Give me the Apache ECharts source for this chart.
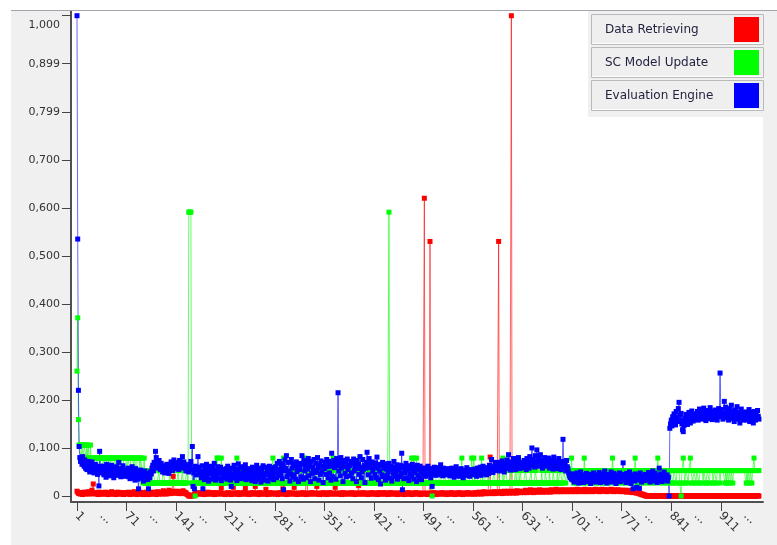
<!DOCTYPE html>
<html>
<head>
<meta charset="utf-8">
<script src="https://cdn.jsdelivr.net/npm/echarts@6/dist/echarts.min.js"></script>
<style>
  html, body { margin: 0; padding: 0; background: #ffffff; }
  #chart { width: 777px; height: 545px; }
</style>
</head>
<body>
<div id="chart"></div>
<script>
// Measured timings per run (thousandths of the normalised scale)
const VALUE_SCALE = 1000;

const seriesNames = ['Data Retrieving', 'SC Model Update', 'Evaluation Engine'];
const seriesColors = ['#ff0000', '#00ff00', '#0000ff'];

const dataRetrieving = [
  10,8,6,5,6,4,7,5,3,6,8,5,4,7,6,5,9,6,4,5,7,12,8,25,6,5,4,7,5,6,3,8,5,6,4,
  5,7,4,6,5,8,4,6,5,3,7,5,6,4,9,5,6,4,7,5,3,6,5,8,4,6,5,7,4,5,6,3,7,5,6,
  4,6,5,8,5,3,6,4,7,5,6,9,4,5,7,3,6,5,4,8,5,6,4,7,3,5,6,4,8,5,6,3,5,7,4,
  6,5,8,4,6,5,7,3,6,9,5,4,7,5,6,8,4,11,5,6,7,4,9,6,5,12,7,5,8,6,10,41,7,9,6,
  8,6,10,7,5,9,6,8,5,7,11,6,8,5,7,4,3,2,0,0,1,0,0,2,0,1,3,5,6,4,7,5,6,4,5,
  5,6,4,7,5,3,6,5,4,6,8,5,4,6,5,7,4,5,6,3,5,7,4,6,5,4,6,5,7,17,5,4,6,5,3,
  5,4,6,5,7,4,5,6,3,5,6,18,4,5,6,5,4,7,5,3,6,5,4,6,5,7,4,5,16,6,4,5,6,3,5,
  4,6,5,7,4,5,6,20,5,4,6,5,3,7,5,6,4,5,6,5,4,6,14,5,3,6,5,4,7,5,6,4,5,6,5,
  5,4,6,5,3,6,5,7,4,5,6,15,5,4,6,5,3,6,5,4,7,5,6,4,5,6,5,18,4,6,5,3,5,6,4,
  5,6,4,5,7,5,4,6,5,3,77,5,6,4,5,6,4,7,5,6,5,4,6,5,20,4,6,5,3,5,6,4,5,7,5,
  4,6,5,3,6,5,4,7,5,6,4,5,6,5,4,18,5,6,4,5,6,5,4,6,3,5,7,5,4,6,5,4,6,5,5,
  6,4,5,7,5,4,6,5,3,6,5,4,6,22,5,4,6,5,4,7,5,6,4,5,6,5,3,6,5,4,6,5,7,4,5,
  5,6,4,5,6,3,5,7,4,6,5,4,6,5,7,4,5,6,5,3,6,5,4,7,5,6,4,5,6,5,4,6,5,3,6,
  5,4,6,5,7,4,5,6,3,5,6,4,5,7,5,4,6,5,3,6,5,4,6,5,7,4,5,6,5,4,6,3,5,6,5,
  5,620,4,6,5,3,6,5,4,530,5,6,4,5,7,4,5,6,3,5,6,4,5,6,5,4,7,5,6,4,5,6,5,3,6,
  5,6,4,5,7,5,4,6,5,3,6,5,4,6,5,7,4,5,6,5,3,6,4,5,6,5,4,7,5,6,4,5,6,5,4,
  6,5,4,7,5,6,4,5,8,6,5,7,4,6,5,9,6,5,7,5,6,8,5,7,81,6,8,5,7,6,9,5,7,6,8,
  7,530,8,6,9,7,5,8,6,10,7,9,6,8,7,10,6,9,7,1000,8,6,10,7,9,8,6,11,7,9,8,10,7,9,8,
  9,7,10,8,12,9,7,11,8,10,9,13,8,10,9,7,11,9,12,8,10,9,11,8,13,10,9,11,8,10,12,9,11,8,10,
  10,12,9,11,8,13,10,9,12,10,11,9,14,10,12,9,11,10,13,9,11,12,10,9,13,11,10,12,9,11,10,13,11,9,12,
  11,10,13,9,12,11,10,14,11,9,12,10,13,11,10,12,9,11,14,10,12,11,9,13,10,12,11,10,13,9,11,12,10,14,11,
  12,10,11,13,9,12,11,14,10,12,11,13,10,12,9,11,13,10,12,11,14,10,12,11,9,13,11,10,12,11,13,10,12,9,11,
  10,12,11,9,12,10,11,8,10,12,9,11,8,10,9,7,10,8,9,7,8,6,8,7,5,6,4,5,3,4,2,3,1,2,0,
  0,0,1,0,0,0,0,1,0,0,0,0,0,1,0,0,0,0,0,0,1,0,0,0,0,0,0,1,0,0,0,0,0,0,0,
  0,0,0,1,0,0,0,0,0,0,0,1,0,0,0,0,0,0,0,0,0,1,0,0,0,0,0,0,0,0,1,0,0,0,0,
  0,1,0,0,0,0,0,0,1,0,0,0,0,0,0,0,1,0,0,0,0,0,0,0,0,1,0,0,0,0,0,0,0,0,0,
  0,0,0,0,1,0,0,0,0,0,0,0,0,1,0,0,0,0,0,0,0,0,0,1,0,0,0,0,0,0,0,0,1,0,0,
  0,0,0,0,0,0,1,0,0,0,0,0,0,0,0,0,0,1,0,0
];

const scModelUpdate = [
  260,371,159,106,106,106,79,106,106,79,106,106,106,79,106,79,106,79,53,106,79,79,79,53,79,79,79,53,79,79,79,79,53,79,79,
  79,79,53,79,79,79,53,79,79,79,79,53,79,79,53,79,79,79,79,53,79,53,79,79,79,79,53,79,79,79,53,79,79,79,79,
  79,53,79,79,79,53,79,79,79,79,53,79,79,79,53,79,79,79,79,53,79,79,53,27,53,79,27,27,53,27,27,53,27,27,53,
  27,27,27,53,53,27,27,27,27,27,27,53,27,27,27,27,27,53,53,27,27,27,27,27,27,27,53,27,27,27,27,27,53,27,27,
  27,27,27,53,27,27,27,27,27,53,27,27,27,27,27,53,53,27,591,591,591,591,53,27,27,27,53,0,27,27,27,53,27,27,27,
  53,53,27,27,27,27,53,53,27,27,27,27,27,53,27,27,27,27,53,53,27,27,27,79,79,27,27,27,27,79,27,27,53,53,27,
  27,27,27,53,53,53,27,27,27,27,27,53,27,27,27,27,79,27,27,27,53,53,27,27,27,27,27,53,53,27,27,27,27,27,53,
  53,27,27,27,27,27,53,53,27,27,27,27,27,27,53,27,27,27,53,53,53,27,27,27,27,27,53,27,27,27,27,27,79,27,27,
  27,27,53,53,27,27,27,27,27,53,27,27,79,27,27,27,27,53,53,27,27,27,27,27,27,53,27,27,27,53,53,27,27,27,27,
  27,53,27,27,27,27,27,79,27,27,27,53,53,27,27,27,27,27,53,27,27,27,27,53,53,53,27,27,27,27,27,27,53,27,27,
  27,27,27,53,53,27,27,27,27,27,53,27,79,27,27,27,27,53,27,27,27,27,27,53,53,27,27,27,27,27,27,53,27,27,27,
  53,53,27,27,27,27,27,53,27,27,27,27,27,53,27,79,27,27,27,27,53,53,27,27,27,27,27,27,53,27,27,27,27,53,53,
  27,27,27,27,53,27,27,27,27,27,53,53,27,27,27,27,27,27,53,27,27,591,27,27,27,53,53,27,27,27,27,27,53,27,27,
  27,27,53,27,27,27,27,27,53,53,27,27,27,27,27,53,27,27,79,27,27,79,27,27,27,79,27,27,27,53,27,27,27,27,53,
  27,27,27,27,53,27,27,27,27,53,27,27,0,27,27,27,53,53,27,27,27,27,27,27,53,27,27,27,27,27,53,53,27,27,27,
  27,27,53,27,27,27,27,27,53,53,27,27,27,27,27,27,53,27,27,79,27,27,27,27,53,53,27,27,27,27,27,27,53,79,27,
  27,79,27,27,27,53,53,27,27,27,27,27,79,27,27,27,53,27,27,27,27,27,53,53,27,27,27,27,27,27,53,27,27,27,27,
  27,27,53,27,27,27,27,79,27,27,27,53,53,27,27,27,27,27,27,53,27,27,27,27,27,53,27,27,27,79,27,27,53,27,27,
  27,27,27,27,53,53,27,27,27,27,27,27,53,27,27,27,27,27,53,53,27,27,27,27,27,27,27,53,27,27,27,27,53,53,27,
  27,27,27,53,27,27,27,27,53,53,27,27,27,27,53,27,27,27,53,53,53,27,27,53,53,53,27,53,53,53,53,53,53,53,79,
  53,53,27,53,53,53,27,53,53,53,53,27,53,53,53,53,27,79,53,53,27,53,53,53,53,27,53,53,53,27,53,53,53,53,27,
  53,53,53,27,53,53,53,53,27,53,53,53,27,53,53,53,53,27,53,53,53,53,79,53,53,27,53,53,53,53,27,53,53,53,53,
  27,53,53,53,53,27,53,53,53,53,27,53,53,53,27,53,53,53,53,79,53,53,27,53,53,53,53,27,53,53,53,27,53,53,53,
  53,53,27,53,53,53,53,27,53,53,53,27,53,53,53,53,79,53,53,27,53,53,53,53,27,53,53,53,27,53,53,53,53,27,53,
  53,53,27,27,53,53,53,27,53,53,53,53,27,27,0,53,53,79,53,27,27,53,53,53,27,53,53,79,53,53,27,27,53,53,53,
  27,53,53,53,27,27,53,53,53,53,27,53,53,53,27,27,53,53,53,27,53,53,53,53,27,27,53,53,53,27,53,53,53,53,27,
  53,53,53,53,53,53,27,53,27,53,53,27,53,53,27,53,53,27,53,53,53,53,53,53,53,53,53,53,53,53,53,53,53,53,53,
  53,27,53,27,53,53,27,53,53,27,53,53,79,53,53,53,53,53,53,53
];

const evaluationEngine = [
  1000,535,220,103,80,72,78,66,82,70,62,75,58,68,55,64,72,60,50,66,58,71,54,62,48,57,66,52,60,45,55,21,93,62,50,
  55,48,62,44,58,51,39,66,47,53,60,42,57,49,64,45,52,38,59,50,46,61,43,55,70,48,52,40,57,45,63,49,54,41,50,
  52,44,58,40,47,36,55,42,61,38,49,45,33,57,40,51,35,15,46,39,54,42,37,48,31,44,52,36,41,47,34,15,43,38,50,
  46,58,64,52,70,61,93,80,72,66,58,74,62,55,68,59,50,63,57,48,61,54,66,52,58,47,63,56,71,60,53,67,75,62,58,
  64,57,70,61,55,74,66,59,68,82,63,71,58,66,52,60,55,63,50,58,66,72,56,103,20,48,15,62,55,44,57,82,60,51,47,
  52,38,63,15,49,34,58,44,66,37,50,31,57,46,62,35,49,59,40,68,45,33,54,42,61,50,36,48,60,32,55,44,52,38,47,
  46,57,35,62,48,40,54,33,20,58,45,37,64,49,41,56,32,50,67,39,48,59,36,47,61,38,52,43,65,34,48,57,44,36,53,
  43,55,32,60,47,37,57,30,50,64,40,46,34,58,49,29,55,42,63,38,47,33,60,44,52,31,48,62,37,46,56,40,51,34,59,
  48,61,38,68,52,42,72,55,45,63,36,67,13,53,75,57,84,40,49,70,52,31,46,76,58,39,66,44,62,35,71,51,60,30,65,
  55,68,40,84,66,35,74,52,62,38,70,56,78,42,63,30,72,47,61,54,76,36,49,68,53,80,60,33,64,45,73,51,62,28,57,
  58,70,45,76,61,38,72,48,66,33,89,62,40,74,59,68,35,78,63,215,52,70,42,80,58,66,30,74,61,47,71,40,77,55,64,
  63,42,72,48,68,36,77,52,61,70,30,74,57,66,45,82,60,38,50,76,56,64,28,58,70,91,62,44,78,59,67,37,71,52,63,
  60,45,69,38,81,58,34,66,52,25,63,44,70,40,58,67,33,56,43,64,50,68,37,57,62,31,59,48,72,40,56,46,65,35,58,
  55,40,64,47,89,13,58,36,62,49,68,38,54,60,32,63,46,57,41,66,53,35,60,48,58,30,64,43,55,38,62,50,34,58,45,
  53,46,58,41,55,49,62,44,51,57,38,48,20,54,45,60,50,43,56,47,52,59,44,50,65,48,55,42,58,46,51,44,53,49,57,
  48,55,42,51,46,58,44,50,39,53,47,61,43,49,55,41,52,46,57,44,50,38,54,48,45,52,59,43,50,47,41,55,49,53,46,
  50,44,56,47,53,41,58,49,45,55,60,43,52,48,62,46,54,57,50,44,59,52,47,64,55,51,76,58,49,61,53,66,57,70,55,
  58,64,52,70,61,55,73,60,66,50,68,62,57,75,63,86,59,67,54,71,65,58,78,62,69,55,73,60,66,80,64,57,70,61,68,
  66,59,74,62,70,55,78,64,68,58,82,63,72,100,76,65,70,60,84,67,96,73,62,79,68,86,64,71,58,75,66,80,62,70,65,
  72,64,79,58,68,75,62,70,56,81,66,60,73,64,57,69,78,61,67,55,72,63,118,70,59,66,52,74,61,57,48,42,38,45,35,
  40,33,46,29,38,43,31,48,36,27,41,35,50,32,39,44,28,37,42,34,47,30,38,45,33,40,26,36,43,31,48,35,39,29,42,
  37,44,32,49,36,28,41,34,46,30,39,52,33,43,27,38,45,31,40,35,50,29,42,36,47,32,39,26,44,34,41,37,48,30,38,
  42,36,69,33,45,39,28,47,35,41,30,50,37,26,44,34,15,40,31,46,38,18,43,33,39,16,48,36,29,42,35,40,32,45,37,
  38,44,33,49,37,29,45,35,41,52,31,40,47,34,39,28,43,36,58,32,46,38,30,42,35,50,33,41,37,44,31,39,0,141,150,
  158,146,165,152,171,160,148,176,163,155,182,195,168,157,172,150,138,134,146,162,153,170,158,149,165,174,160,152,168,177,163,156,171,159,166,
  170,162,176,158,168,181,165,172,160,175,167,183,163,171,157,174,166,178,161,169,184,164,172,159,176,168,162,179,166,173,158,170,182,165,256,
  174,166,180,160,171,197,168,185,163,176,170,158,182,165,173,189,161,177,168,155,179,164,172,186,160,175,167,152,170,181,163,174,158,169,162,
  168,175,158,171,163,180,155,167,174,160,169,152,176,164,158,170,162,178,166,160
];

// Axis ticks and labels
const xTickValues = [1, 71, 141, 211, 281, 351, 421, 491, 561, 631, 701, 771, 841, 911];
const xLabelValues = [1, 36, 71, 106, 141, 176, 211, 246, 281, 316, 351, 386, 421, 456, 491, 526,
  561, 596, 631, 666, 701, 736, 771, 806, 841, 876, 911, 946];
const yTickValues = [0, 0.1, 0.2, 0.3, 0.4, 0.5, 0.6, 0.7, 0.8, 0.9, 1.0];
const yTickLabels = ['0', '0,100', '0,200', '0,300', '0,400', '0,500', '0,600', '0,700', '0,799', '0,899', '1,000'];

const allSeries = [dataRetrieving, scModelUpdate, evaluationEngine];

const chart = echarts.init(document.getElementById('chart'), null, { renderer: 'canvas' });

const FONT = 'DejaVu Sans';

// Thin, slightly translucent connecting lines; square markers at every sample
const series = allSeries.map((values, s) => ({
  type: 'line',
  name: seriesNames[s],
  data: values.map((v, i) => [i + 1, v / VALUE_SCALE]),
  symbol: 'rect',
  symbolSize: 5,
  showAllSymbol: true,
  showSymbol: true,
  lineStyle: { width: 1, color: seriesColors[s], opacity: 0.6 },
  itemStyle: { color: seriesColors[s] },
  emphasis: { disabled: true },
  animation: false
}));

// Legend panel: bevelled rows with the name on the left and a swatch on the right
const legendElements = [
  { type: 'rect', shape: { x: 588, y: 11, width: 176, height: 106 }, style: { fill: '#f0f0f0' }, z: 100 }
];
seriesNames.forEach((name, i) => {
  const top = 14.5 + 33 * i;
  legendElements.push(
    { type: 'rect', shape: { x: 591.5, y: top, width: 172, height: 30 },
      style: { fill: '#efefef', stroke: '#b9b9b9', lineWidth: 1 }, z: 101 },
    { type: 'line', shape: { x1: 592.5, y1: top + 29, x2: 762.5, y2: top + 29 },
      style: { stroke: '#ffffff', lineWidth: 1 }, z: 102 },
    { type: 'text', x: 605, y: top + 15,
      style: { text: name, fill: '#23233f', font: '12px "' + FONT + '"', textVerticalAlign: 'middle', textAlign: 'left' }, z: 102 },
    { type: 'rect', shape: { x: 734, y: 17 + 33 * i, width: 25, height: 25 },
      style: { fill: seriesColors[i] }, z: 102 }
  );
});

const option = {
  animation: false,
  backgroundColor: '#f0f0f0',
  grid: {
    left: 71, right: 14, top: 11, bottom: 43,
    show: true, backgroundColor: '#ffffff', borderWidth: 0
  },
  xAxis: {
    type: 'value',
    min: -7.48,
    max: 970.7,
    axisLine: { show: true, onZero: false, lineStyle: { color: '#505050', width: 2 } },
    axisTick: { show: true, customValues: xTickValues, length: 9, lineStyle: { color: '#444444', width: 1 } },
    axisLabel: {
      customValues: xLabelValues,
      rotate: -45,
      margin: 12,
      fontFamily: FONT,
      fontSize: 12,
      color: '#333333',
      formatter: (v) => ((v - 1) % 70 === 0 ? String(v) : '...')
    },
    splitLine: { show: false }
  },
  yAxis: {
    type: 'value',
    min: -0.0125,
    max: 1.0098,
    axisLine: { show: true, onZero: false, lineStyle: { color: '#505050', width: 2 } },
    axisTick: { show: true, customValues: yTickValues, length: 9, lineStyle: { color: '#444444', width: 1 } },
    axisLabel: {
      customValues: yTickValues,
      margin: 11,
      fontFamily: FONT,
      fontSize: 11,
      color: '#333333',
      formatter: (v) => {
        const k = Math.round(v * 10);
        return k === 10 ? '{top|' + yTickLabels[k] + '}' : yTickLabels[k];
      },
      rich: {
        top: { fontFamily: FONT, fontSize: 11, color: '#333333', padding: [19, 0, 0, 0] }
      }
    },
    splitLine: { show: false }
  },
  graphic: {
    elements: [
      { type: 'rect', shape: { x: 0, y: 0, width: 11, height: 545 }, style: { fill: '#ffffff' }, z: 100 },
      { type: 'rect', shape: { x: 0, y: 0, width: 777, height: 10 }, style: { fill: '#ffffff' }, z: 100 },
      { type: 'line', shape: { x1: 11, y1: 10.5, x2: 777, y2: 10.5 }, style: { stroke: '#a4a4ac', lineWidth: 1 }, z: 100 }
    ].concat(legendElements)
  },
  series: series
};

chart.setOption(option);
</script>
</body>
</html>
